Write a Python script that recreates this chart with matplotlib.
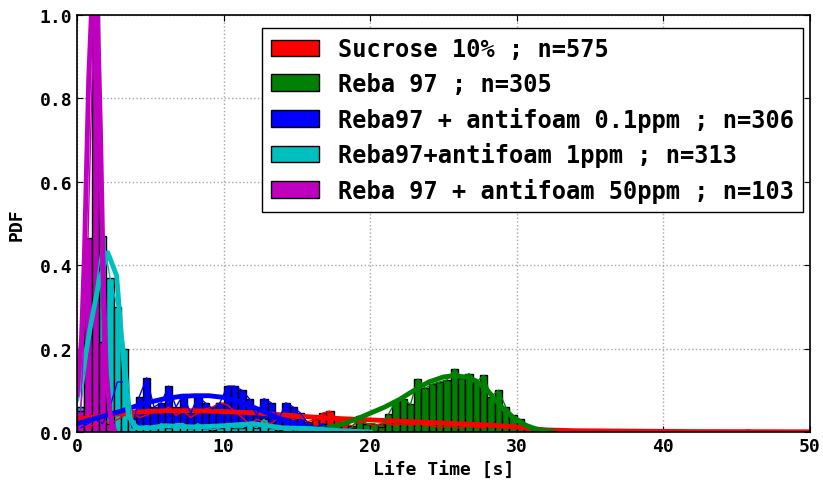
import numpy as np
import matplotlib
matplotlib.use("Agg")
import matplotlib.pyplot as plt

# histogram bins shared by all series (0.5 s wide, 0..50 s)
bin_width = 0.5
n_bins = 100

labels = [
    "Sucrose 10% ; n=575",
    "Reba 97 ; n=305",
    "Reba97 + antifoam 0.1ppm ; n=306",
    "Reba97+antifoam 1ppm ; n=313",
    "Reba 97 + antifoam 50ppm ; n=103",
]
colors = ["r", "g", "b", "c", "m"]

# bar heights (PDF), listed from bin 0 onward; remaining bins are empty
red_heights = [0.02, 0.01, 0.02, 0.03, 0.02, 0.03, 0.04, 0.045, 0.035, 0.04,
               0.05, 0.045, 0.06, 0.04, 0.05, 0.035, 0.045, 0.055, 0.06, 0.07,
               0.065, 0.05, 0.035, 0.02, 0.03, 0.025, 0.02, 0.035, 0.04, 0.03,
               0.035, 0.025, 0.03, 0.045, 0.05, 0.03, 0.02, 0.015, 0.025, 0.02,
               0.015, 0.02, 0.02, 0.015, 0.02, 0.015, 0.02, 0.015, 0.015, 0.01,
               0.015, 0.01, 0.01, 0.015, 0.01, 0.01, 0.02, 0.01, 0.01, 0.015,
               0.01, 0.005, 0.003, 0.0, 0.0, 0.0, 0.0, 0.0, 0.0, 0.0,
               0.005, 0.0, 0.0, 0.0, 0.0, 0.0, 0.0, 0.0, 0.0, 0.0,
               0.0, 0.0, 0.0, 0.0, 0.0, 0.0, 0.0, 0.0, 0.0, 0.0,
               0.0, 0.005]
green_heights = [0.0] * 30 + [
    0.0, 0.0, 0.01, 0.0, 0.01, 0.0, 0.005, 0.01, 0.038, 0.02,
    0.02, 0.013, 0.043, 0.075, 0.08, 0.066, 0.127, 0.105, 0.115, 0.12,
    0.125, 0.151, 0.13, 0.14, 0.12, 0.136, 0.085, 0.1, 0.06, 0.04,
    0.03, 0.01]
blue_heights = [0.01, 0.02, 0.03, 0.02, 0.06, 0.12, 0.12, 0.01, 0.085, 0.13,
                0.06, 0.07, 0.11, 0.06, 0.09, 0.045, 0.085, 0.07, 0.055, 0.07,
                0.11, 0.11, 0.1, 0.08, 0.04, 0.08, 0.07, 0.03, 0.07, 0.06,
                0.045, 0.02, 0.01, 0.02, 0.005, 0.0, 0.005]
cyan_heights = [0.06, 0.2, 0.33, 0.47, 0.37, 0.3, 0.2, 0.03, 0.01, 0.015,
                0.01, 0.02, 0.01, 0.02, 0.02, 0.01, 0.02, 0.01, 0.005, 0.01,
                0.02, 0.01, 0.01, 0.02, 0.01, 0.03, 0.01, 0.005, 0.01, 0.0,
                0.01, 0.0, 0.01, 0.0, 0.005]
magenta_heights = [0.05, 0.465, 1.15, 0.215, 0.02]

# smooth density curves: (x, y) samples
red_curve_x = [0, 2, 4, 6, 8, 10, 12, 14, 16, 18, 20, 22, 24, 26, 28, 30, 31, 32, 34, 38, 42, 50]
red_curve_y = [0.03, 0.04, 0.048, 0.051, 0.051, 0.049, 0.046, 0.041, 0.036, 0.032, 0.029,
               0.026, 0.023, 0.02, 0.017, 0.012, 0.008, 0.005, 0.003, 0.002, 0.001, 0.0005]
green_curve_x = [16, 17, 18, 19, 20, 21, 22, 23, 24, 25, 25.7, 26.5, 27.2, 28, 28.7, 29.3,
                 30, 30.7, 31.5, 32.5]
green_curve_y = [0.005, 0.01, 0.018, 0.03, 0.045, 0.06, 0.078, 0.1, 0.12, 0.132, 0.135,
                 0.132, 0.123, 0.1, 0.07, 0.048, 0.028, 0.015, 0.005, 0.001]
blue_curve_x = [0, 1, 2, 3, 4, 5, 6, 7, 8, 9, 10, 11, 12, 13, 14, 15, 16, 17, 18]
blue_curve_y = [0.02, 0.03, 0.04, 0.05, 0.062, 0.072, 0.08, 0.085, 0.087, 0.087, 0.083,
                0.073, 0.06, 0.045, 0.03, 0.018, 0.01, 0.005, 0.002]
cyan_curve_x = [0, 0.5, 1.0, 1.5, 2.1, 2.7, 3.1, 3.5, 4.0, 5, 6, 8, 10, 12, 14, 16, 18, 20]
cyan_curve_y = [0.08, 0.17, 0.27, 0.36, 0.43, 0.375, 0.2, 0.04, 0.01, 0.01, 0.015, 0.012,
                0.015, 0.02, 0.01, 0.008, 0.003, 0.0]
magenta_curve_x = [0.0, 0.3, 0.5, 0.8, 1.0, 1.2, 1.4, 1.6, 1.8, 2.0, 2.3, 2.6]
magenta_curve_y = [0.09, 0.22, 0.42, 0.85, 1.02, 1.06, 1.0, 0.72, 0.36, 0.14, 0.03, 0.0]

series = [
    (red_heights, red_curve_x, red_curve_y),
    (green_heights, green_curve_x, green_curve_y),
    (blue_heights, blue_curve_x, blue_curve_y),
    (cyan_heights, cyan_curve_x, cyan_curve_y),
    (magenta_heights, magenta_curve_x, magenta_curve_y),
]

plt.rcParams["font.family"] = "DejaVu Sans Mono"
plt.rcParams["font.weight"] = "bold"

fig = plt.figure(figsize=(8.23, 4.81), dpi=100)
fig.patch.set_facecolor("white")
ax = fig.add_axes([0.0936, 0.0998, 0.8905, 0.8669])

edges = np.arange(n_bins) * bin_width
centers = edges + bin_width / 2
for (heights, cx, cy), color, label in zip(series, colors, labels):
    h = np.zeros(n_bins)
    h[:len(heights)] = heights
    ax.bar(edges, h, width=bin_width, align="edge", color=color,
           edgecolor="k", linewidth=1, label=label)
    ax.plot(centers, h, color=color, linewidth=1)
    ax.plot(cx, cy, color=color, linewidth=3.5)

ax.set_xlim(0, 50)
ax.set_ylim(0, 1.0)
ax.set_xticks(np.arange(0, 51, 10))
ax.set_yticks(np.arange(0, 1.01, 0.2))
ax.set_xlabel("Life Time [s]", fontsize=13, fontweight="bold")
ax.set_ylabel("PDF", fontsize=13, fontweight="bold", labelpad=10)
ax.tick_params(direction="in", length=4, top=True, right=True, labelsize=13)
ax.grid(True, linestyle=":", color="0.65", linewidth=1)
ax.set_axisbelow(True)
for spine in ax.spines.values():
    spine.set_linewidth(1.2)

leg = ax.legend(loc="upper right", bbox_to_anchor=(0.9905, 0.969),
                fontsize=17, fancybox=False, framealpha=1, edgecolor="k",
                borderaxespad=0, labelspacing=0.45)
leg.get_frame().set_linewidth(1)

fig.savefig("out.png", dpi=100)
